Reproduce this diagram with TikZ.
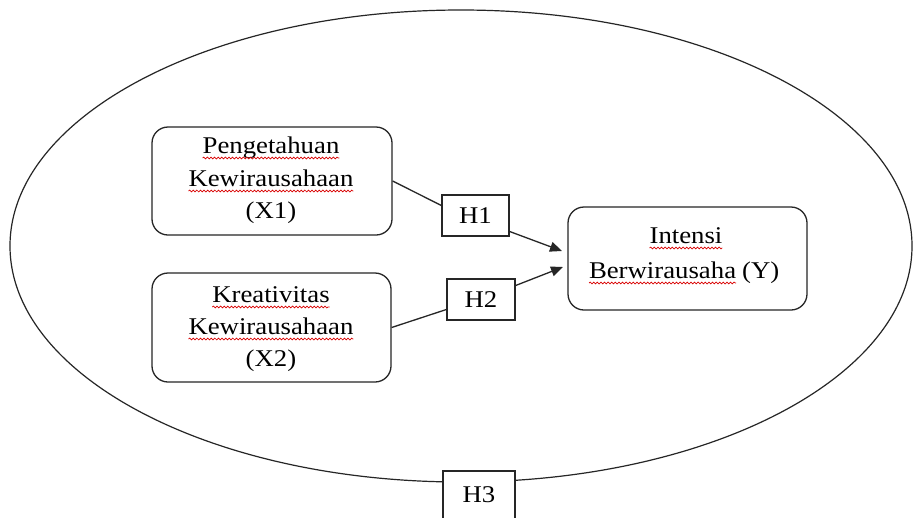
\documentclass[tikz,border=0pt]{standalone}
\usepackage{fontspec}
\setmainfont{Liberation Serif}[FakeStretch=1.115]
\usetikzlibrary{arrows.meta,decorations.pathmorphing}
\tikzset{
 varbox/.style={draw=black!85, line width=1.3pt, rounded corners=16pt, fill=white, inner sep=0pt},
 hbox/.style={draw=black!85, line width=1.3pt, fill=white, inner sep=0pt, font=\fontsize{24}{28}\selectfont},
 txt/.style={inner sep=0pt, outer sep=0pt, font=\fontsize{24}{28}\selectfont},
 squig/.style={red!85!black, line width=0.7pt, decorate, decoration={snake, amplitude=0.9pt, segment length=3.6pt}},
 link/.style={line width=1.3pt, draw=black!85},
 arr/.style={link, -{Triangle[length=12pt,width=10pt]}},
}
\begin{document}
\begin{tikzpicture}[x=1pt,y=-1pt]
\useasboundingbox[fill=white] (0,0) rectangle (913,517);
\draw[line width=1.2pt, black!85] (461,246) ellipse [x radius=451, y radius=236];
% boxes
\node[varbox, minimum width=240pt, minimum height=108pt] (X1) at (272,181) {};
\node[varbox, minimum width=239pt, minimum height=109pt] (X2) at (271.5,327.5) {};
\node[varbox, minimum width=239pt, minimum height=103pt] (Y) at (687.5,258.5) {};
\node[hbox, minimum width=67pt, minimum height=41pt] (H1) at (475.5,215.5) {H1};
\node[hbox, minimum width=68pt, minimum height=41pt] (H2) at (481,299.5) {H2};
\node[hbox, minimum width=72pt, minimum height=48pt] (H3) at (479,495) {H3};
% texts
\node[txt, anchor=base] (x1a) at (271,153) {Pengetahuan};
\node[txt, anchor=base] (x1b) at (271,186) {Kewirausahaan};
\node[txt, anchor=base] (x1c) at (271,218) {(X1)};
\node[txt, anchor=base] (x2a) at (271,302) {Kreativitas};
\node[txt, anchor=base] (x2b) at (271,334) {Kewirausahaan};
\node[txt, anchor=base] (x2c) at (271,366) {(X2)};
\node[txt, anchor=base] (ya) at (686,243) {Intensi};
\node[txt, anchor=base west] (yb) at (589,278) {Berwirausaha};
\node[txt, anchor=base west] (yc) at ([xshift=6pt]yb.base east) {(Y)};
% spell-check underlines
\foreach \w in {x1a,x1b,x2a,x2b,ya,yb}
  \draw[squig] ([yshift=-5pt]\w.base west) -- ([yshift=-5pt]\w.base east);
% connectors
\coordinate (t1) at (562,251);
\coordinate (t2) at (563,267);
\draw[link] (X1.east) -- ([yshift=10pt]H1.west);
\draw[link] (X2.east) -- ([yshift=-10pt]H2.west);
\draw[arr] ([yshift=-16pt]H1.east) -- (t1);
\draw[arr] ([yshift=14pt]H2.east) -- (t2);
\end{tikzpicture}
\end{document}
